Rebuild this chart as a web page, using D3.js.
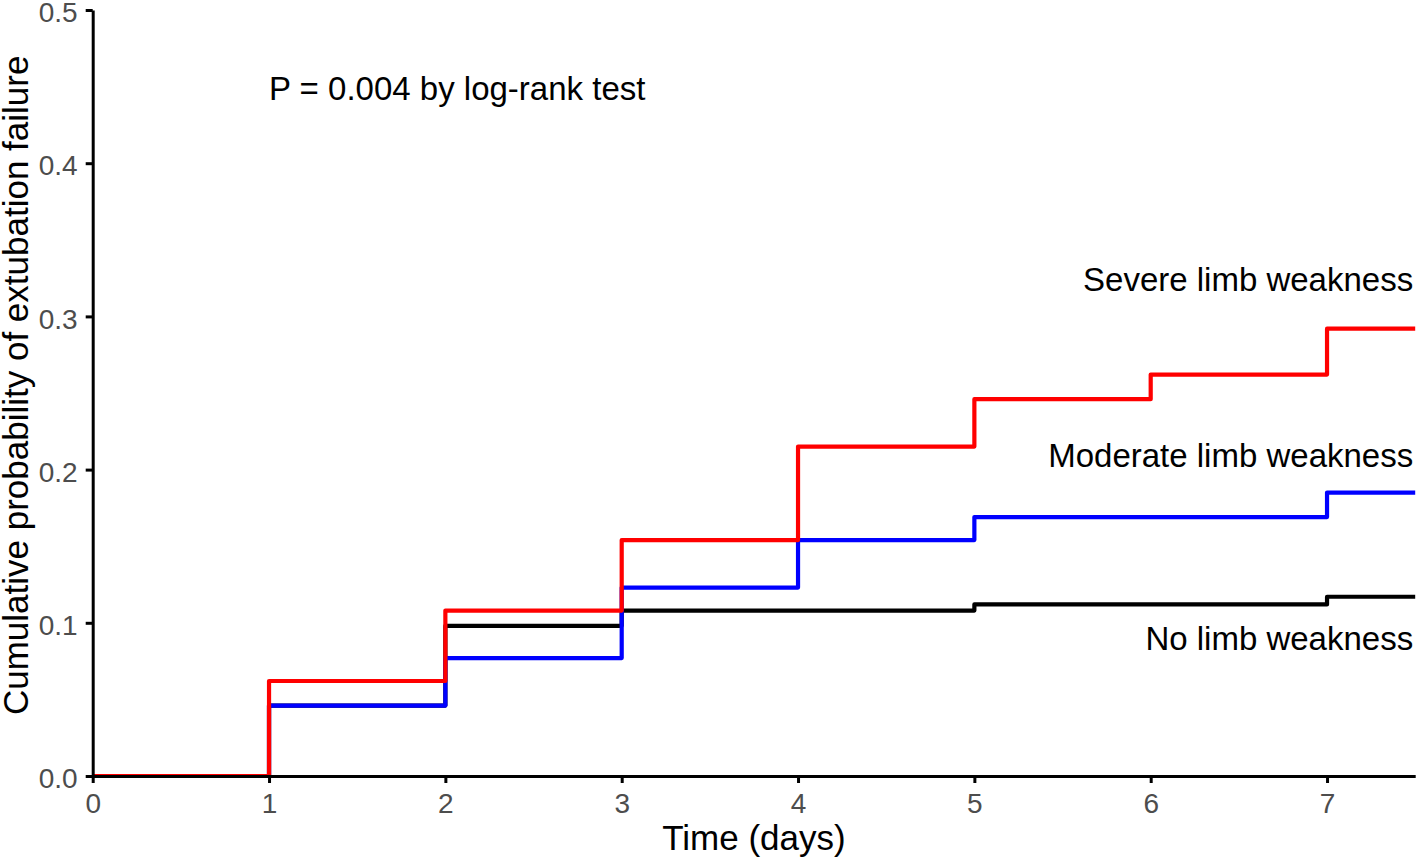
<!DOCTYPE html>
<html><head><meta charset="utf-8">
<script src="https://cdn.jsdelivr.net/npm/d3@7"></script>
<style>body{margin:0;background:#fff}svg{display:block}text{font-family:"Liberation Sans",Arial,Helvetica,sans-serif}</style>
</head><body>
<svg id="c" width="1418" height="859"></svg>
<script>
// step times (days) and cumulative probabilities
const timesNone = [0, 1, 2, 3, 5, 7];
const valuesNone = [0, 0.046, 0.098, 0.108, 0.112, 0.117];
const timesModerate = [0, 1, 2, 3, 4, 5, 7];
const valuesModerate = [0, 0.046, 0.077, 0.123, 0.154, 0.169, 0.185];
const timesSevere = [0, 1, 2, 3, 4, 5, 6, 7];
const valuesSevere = [0, 0.062, 0.108, 0.154, 0.215, 0.246, 0.262, 0.292];
const seriesNames = ["No limb weakness", "Moderate limb weakness", "Severe limb weakness"];
const seriesColors = ["#000000", "#0000ff", "#ff0000"];
const labelY = [0.09, 0.209, 0.324];
const xTicks = [0, 1, 2, 3, 4, 5, 6, 7];
const yTicks = [0, 0.1, 0.2, 0.3, 0.4, 0.5];
const xMax = 7.5;
const annotation = "P = 0.004 by log-rank test";

const svg = d3.select("#c");
const x = d3.scaleLinear().domain([0, xMax]).range([92.7, 1415.2]);
const y = d3.scaleLinear().domain([0, 0.5]).range([776, 10]);

const series = [
  {t: timesNone, v: valuesNone},
  {t: timesModerate, v: valuesModerate},
  {t: timesSevere, v: valuesSevere}
];
const line = d3.line().x(d => x(d[0])).y(d => y(d[1])).curve(d3.curveStepAfter);
series.forEach((s, i) => {
  const pts = s.t.map((t, j) => [t, s.v[j]]);
  pts.push([xMax, s.v[s.v.length - 1]]);
  svg.append("path").datum(pts).attr("d", line)
    .attr("fill", "none").attr("stroke", seriesColors[i]).attr("stroke-width", 4.2)
    .attr("stroke-linejoin", "round");
});

// axes
const xAxis = svg.append("g").attr("transform", `translate(0,${y(0)})`)
  .call(d3.axisBottom(x).tickValues(xTicks).tickFormat(d3.format("d")).tickSize(7).tickSizeOuter(0).tickPadding(5));
const yAxis = svg.append("g").attr("transform", `translate(${x(0)},0)`)
  .call(d3.axisLeft(y).tickValues(yTicks).tickFormat(d3.format(".1f")).tickSize(7).tickSizeOuter(0).tickPadding(8));
[xAxis, yAxis].forEach(g => {
  g.select(".domain").attr("stroke", "#000").attr("stroke-width", 3);
  g.selectAll(".tick line").attr("stroke", "#000").attr("stroke-width", 3);
  g.selectAll(".tick text").attr("fill", "#4d4d4d").style("font-size", "28px")
   .style("font-family", '"Liberation Sans",Arial,sans-serif');
});
xAxis.selectAll(".tick text").attr("dy", "0.9em");
yAxis.selectAll(".tick text").attr("dy", "0.42em");

// axis titles
svg.append("text").attr("x", x(xMax / 2)).attr("y", 850).attr("text-anchor", "middle")
  .style("font-size", "35px").attr("fill", "#000").text("Time (days)");
svg.append("text").attr("transform", `translate(28,${y(0.255)}) rotate(-90)`).attr("text-anchor", "middle")
  .style("font-size", "35px").attr("fill", "#000").text("Cumulative probability of extubation failure");

// annotation
svg.append("text").attr("x", x(1)).attr("y", y(0.449)).attr("dy", "0.35em")
  .style("font-size", "33px").attr("fill", "#000").text(annotation);

// series labels
seriesNames.forEach((n, i) => {
  svg.append("text").attr("x", x(xMax) - 2).attr("y", y(labelY[i])).attr("dy", "0.35em")
    .attr("text-anchor", "end").style("font-size", "33px").attr("fill", "#000").text(n);
});
</script>
</body></html>
